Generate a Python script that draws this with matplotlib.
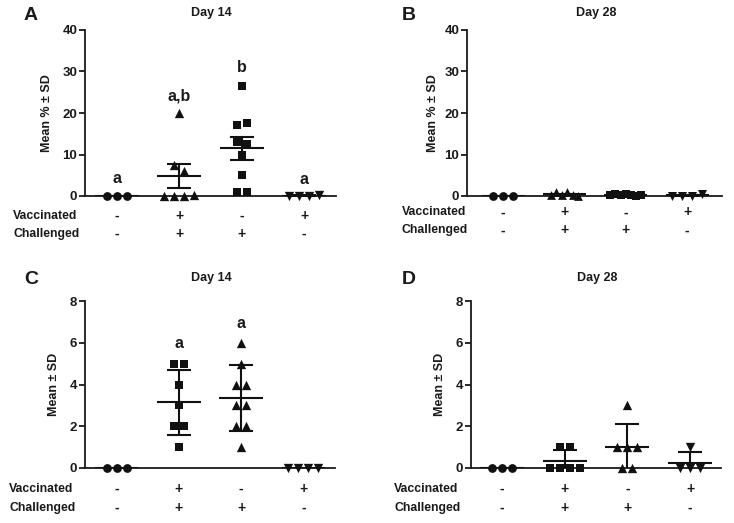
import numpy as np
import matplotlib
matplotlib.use("Agg")
import matplotlib.pyplot as plt
from matplotlib.transforms import blended_transform_factory

plt.rcParams['font.family'] = ['Liberation Sans', 'DejaVu Sans']
plt.rcParams['font.weight'] = 'bold'

W, H = 734, 523

# ---------------- data ----------------
vaccinated = ['-', '+', '-', '+']
challenged = ['-', '+', '+', '-']
markers = ['o', '^', 's', 'v']

# Panel A (Day 14, percent)
A_g1 = [0, 0, 0]
A_g2 = [20.0, 7.5, 6.0, 0, 0, 0, 0.3]
A_g3 = [26.5, 17.0, 17.5, 13.0, 12.5, 10.0, 5.0, 1.0, 1.0]
A_g4 = [0, 0, 0, 0.3]
A_letters = ['a', 'a,b', 'b', 'a']
A_letter_y = [3.1, 22.9, 29.8, 2.9]

# Panel B (Day 28, percent)
B_g1 = [0, 0, 0]
B_g2 = [0.2, 0.9, 0.2, 0.9, 0.2, 0.1]
B_g3 = [0.3, 0.5, 0.2, 0.6, 0.3, 0.1, 0.3]
B_g4 = [0, 0, 0, 0.5]

# Panel C (Day 14, score) - group 2 squares, group 3 triangles
C_g1 = [0, 0, 0]
C_g2 = [5, 5, 4, 3, 2, 2, 1]
C_g3 = [6, 5, 4, 4, 3, 3, 2, 2, 1]
C_g4 = [0, 0, 0, 0]
C_letters = ['', 'a', 'a', '']
C_letter_y = [0, 5.74, 6.7, 0]

# Panel D (Day 28, score)
D_g1 = [0, 0, 0]
D_g2 = [1, 1, 0, 0, 0, 0]
D_g3 = [3, 1, 1, 1, 0, 0]
D_g4 = [1, 0, 0, 0]

fig = plt.figure(figsize=(W / 100, H / 100), dpi=100)


def px_axes(l, r, t, b):
    return fig.add_axes([l / W, 1 - b / H, (r - l) / W, (b - t) / H])


def swarm(vals, tol, step):
    offs = np.zeros(len(vals))
    bins = []
    cur = [0]
    for i in range(1, len(vals)):
        if abs(vals[i] - vals[cur[0]]) <= tol:
            cur.append(i)
        else:
            bins.append(cur)
            cur = [i]
    bins.append(cur)
    for b in bins:
        k = len(b)
        for j, idx in enumerate(b):
            offs[idx] = (j - (k - 1) / 2) * step
    return offs


def panel(ax, groups, mk, ylim, yticks, xlim, tol, steps, err_kind,
          ylabel, ylab_x, letter, letter_xy, title, title_xy,
          row_x, row_y, letters=None, letter_y=None, mk_sizes=None):
    ax.set_xlim(*xlim)
    ax.set_ylim(*ylim)
    for s in ['top', 'right']:
        ax.spines[s].set_visible(False)
    for s in ['left', 'bottom']:
        ax.spines[s].set_linewidth(1.3)
        ax.spines[s].set_color('#1a1a1a')
    ax.set_xticks([])
    ax.set_yticks(yticks)
    ax.tick_params(axis='y', direction='out', length=4, width=1.3,
                   labelsize=9.5, pad=1.5, colors='#1a1a1a')
    for lab in ax.get_yticklabels():
        lab.set_fontweight('bold')
    ax.set_ylabel(ylabel, fontsize=9, fontweight='bold', color='#1a1a1a')
    ax.yaxis.set_label_coords(ylab_x, 0.5)
    for i, vals in enumerate(groups):
        v = np.array(vals, dtype=float)
        offs = swarm(list(v), tol, steps[i])
        ax.scatter(i + offs, v, marker=mk[i], s=mk_sizes[mk[i]], color='#111111',
                   clip_on=False, zorder=4, linewidths=0)
        m = v.mean()
        sd = v.std(ddof=1)
        e = sd / np.sqrt(len(v)) if err_kind == 'sem' else sd
        ax.hlines(m, i - 0.35, i + 0.35, color='#111111', lw=1.5, zorder=3)
        if e > 0:
            ax.errorbar(i, m, yerr=e, fmt='none', ecolor='#111111',
                        elinewidth=1.5, capsize=8.5, capthick=1.5, zorder=3)
    if letters is not None:
        for i, (t, y) in enumerate(zip(letters, letter_y)):
            if t:
                ax.text(i, y, t, ha='center', va='baseline', fontsize=11.5,
                        fontweight='bold', color='#1a1a1a')
    fig.text(letter_xy[0] / W, 1 - letter_xy[1] / H, letter, fontsize=14,
             fontweight='bold', ha='center', va='center', color='#1a1a1a')
    fig.text(title_xy[0] / W, 1 - title_xy[1] / H, title, fontsize=9,
             fontweight='bold', ha='center', va='center', color='#1a1a1a')
    fig.text(row_x / W, 1 - row_y[0] / H, 'Vaccinated', fontsize=8.8,
             fontweight='bold', ha='left', va='center', color='#1a1a1a')
    fig.text(row_x / W, 1 - row_y[1] / H, 'Challenged', fontsize=8.8,
             fontweight='bold', ha='left', va='center', color='#1a1a1a')
    tr = blended_transform_factory(ax.transData, fig.transFigure)
    for i in range(len(groups)):
        ax.text(i, 1 - row_y[0] / H, vaccinated[i], transform=tr, ha='center',
                va='center', fontsize=10, fontweight='bold', color='#1a1a1a')
        ax.text(i, 1 - row_y[1] / H, challenged[i], transform=tr, ha='center',
                va='center', fontsize=10, fontweight='bold', color='#1a1a1a')


sizes = {'o': 40, '^': 45, 's': 28, 'v': 45}
sizes_b = {'o': 40, '^': 40, 's': 28, 'v': 42}

axA = px_axes(85, 336, 30, 196)
panel(axA, [A_g1, A_g2, A_g3, A_g4], markers, (0, 40), [0, 10, 20, 30, 40],
      (-0.51, 3.51), 2.0, [0.16] * 4, 'sem', 'Mean % \u00b1 SD', -0.127,
      'A', (31, 15), 'Day 14', (211.5, 13), 13, (216, 234),
      A_letters, A_letter_y, sizes)

axB = px_axes(467, 722, 30, 196)
panel(axB, [B_g1, B_g2, B_g3, B_g4], markers, (0, 40), [0, 10, 20, 30, 40],
      (-0.59, 3.57), 2.0, [0.163, 0.09, 0.085, 0.163], 'sem', 'Mean % \u00b1 SD', -0.11,
      'B', (408.5, 15), 'Day 28', (596, 13), 402, (212.3, 230.3),
      None, None, sizes_b)

axC = px_axes(85, 335, 301, 468)
panel(axC, [C_g1, C_g2, C_g3, C_g4], ['o', 's', '^', 'v'], (0, 8), [0, 2, 4, 6, 8],
      (-0.51, 3.51), 0.3, [0.16] * 4, 'sd', 'Mean \u00b1 SD', -0.1,
      'C', (31.5, 279.5), 'Day 14', (211.5, 278), 9, (488.7, 507.7),
      C_letters, C_letter_y, sizes)

axD = px_axes(471, 721, 301, 468)
panel(axD, [D_g1, D_g2, D_g3, D_g4], ['o', 's', '^', 'v'], (0, 8), [0, 2, 4, 6, 8],
      (-0.49, 3.49), 0.3, [0.16] * 4, 'sd', 'Mean \u00b1 SD', -0.1,
      'D', (408.5, 279), 'Day 28', (596.7, 278), 394, (488.7, 507.7),
      None, None, sizes)

fig.savefig('out.png', dpi=100, facecolor='white')
